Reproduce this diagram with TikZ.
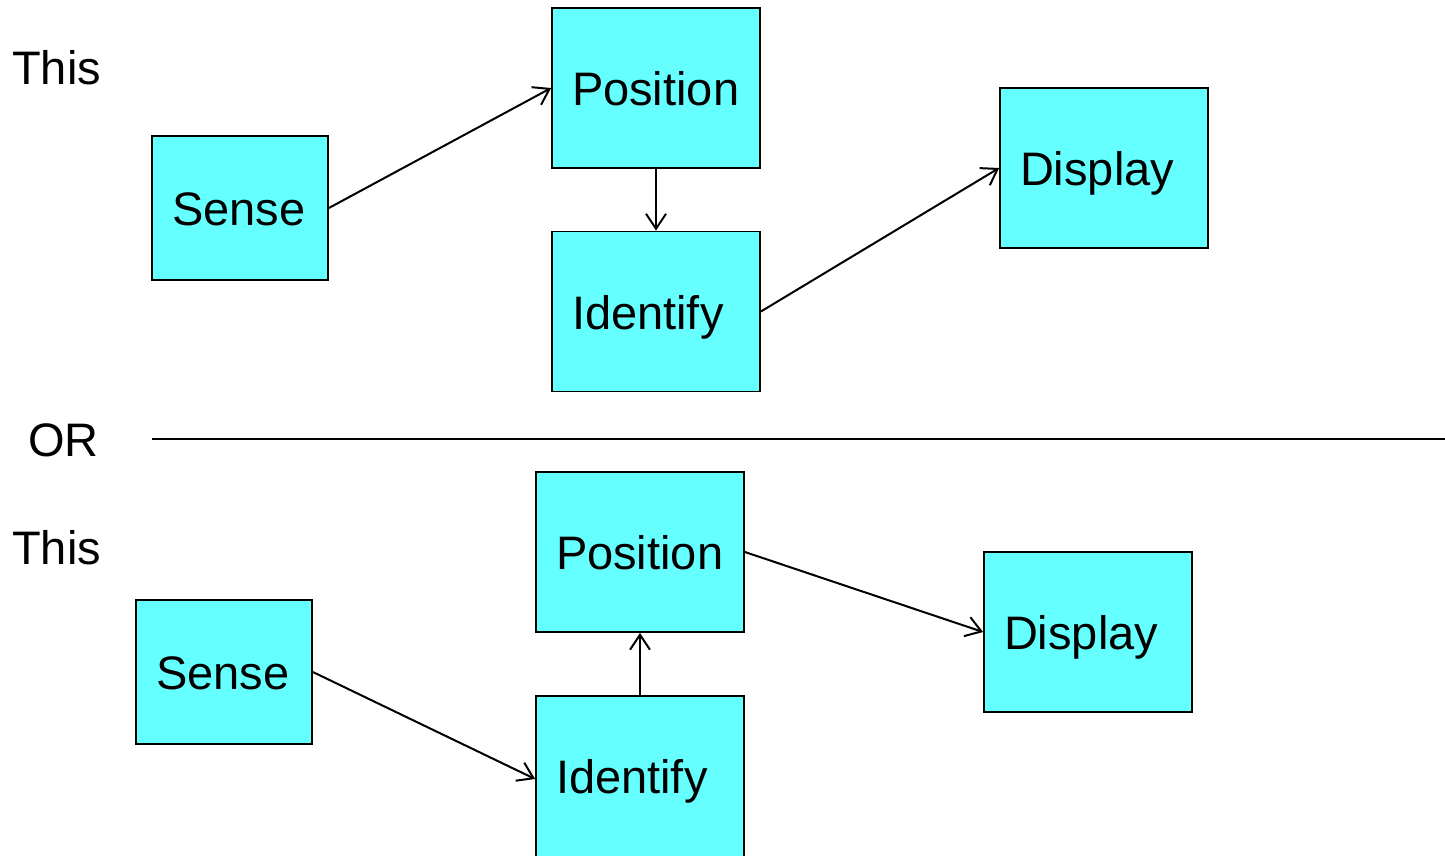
\documentclass[tikz,border=0pt]{standalone}
\usepackage{fontspec}
\setmainfont{Liberation Sans}
\usetikzlibrary{arrows.meta}
\definecolor{boxcyan}{HTML}{66FFFF}
\tikzset{
  box/.style={draw=black, line width=1.8pt, fill=boxcyan, inner xsep=20pt, inner ysep=0pt,
    align=left, anchor=center, text height=40pt, text depth=4.4pt,
    font=\fontsize{47}{54}\selectfont},
  widebox/.style={box, text width=168pt, minimum height=160pt},
  sensebox/.style={box, text width=136pt, minimum height=144pt},
  conn/.style={line width=2pt, -{Straight Barb[length=15pt,width=20pt,line width=2pt]}},
  label/.style={anchor=base west, inner sep=0pt, font=\fontsize{47}{54}\selectfont}
}
\begin{document}
\begin{tikzpicture}[x=1pt,y=-1pt]
\useasboundingbox (0,0) rectangle (1445,855);
\fill[white] (0,0) rectangle (1445,855);
% labels
\node[label] (this1) at (12,84) {This};
\node[label] (or) at (28,456) {OR};
\node[label] (this2) at (12,564) {This};
\coordinate (ruleA) at (152,439);
\coordinate (ruleB) at (1445,439);
\draw[line width=2pt] (ruleA) -- (ruleB);
% top
\node[sensebox] (s1) at (240,208) {Sense};
\node[widebox] (p1) at (656,88) {Position};
\node[widebox] (i1) at (656,311.5) {Identify};
\node[widebox] (d1) at (1104,168) {Display};
\draw[conn] (s1.east) -- (p1.west);
\draw[conn] (p1.south) -- (i1.north);
\draw[conn] (i1.east) -- (d1.west);
% bottom
\node[sensebox] (s2) at (224,672) {Sense};
\node[widebox] (p2) at (640,552) {Position};
\node[widebox, minimum height=166pt, text height=34pt, text depth=4.4pt] (i2) at (640,779) {Identify};
\node[widebox] (d2) at (1088,632) {Display};
\draw[conn] (s2.east) -- (i2.west);
\draw[conn] (i2.north) -- (p2.south);
\draw[conn] (p2.east) -- (d2.west);
\end{tikzpicture}
\end{document}
